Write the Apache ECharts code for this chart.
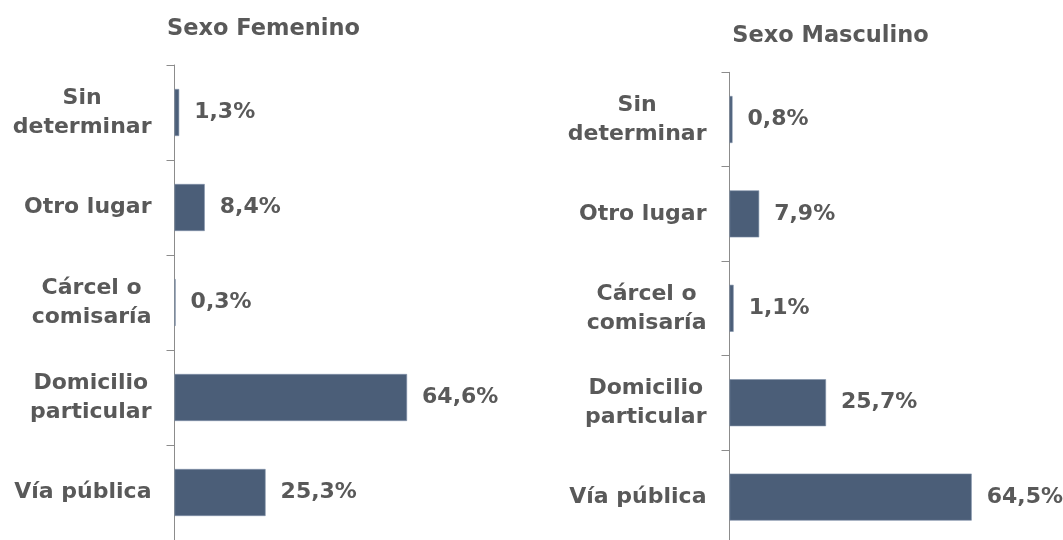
<!DOCTYPE html>
<html>
<head>
<meta charset="utf-8">
<script src="https://cdn.jsdelivr.net/npm/echarts@6/dist/echarts.min.js"></script>
<style>
html,body{margin:0;padding:0;background:#fff;}
#chart{width:1063px;height:540px;}
</style>
</head>
<body>
<div id="chart"></div>
<script>
const categories = ['Sin\ndeterminar', 'Otro lugar', 'Cárcel o\ncomisaría', 'Domicilio\nparticular', 'Vía pública'];
const femenino = [1.3, 8.4, 0.3, 64.6, 25.3];
const masculino = [0.8, 7.9, 1.1, 25.7, 64.5];
const titles = ['Sexo Femenino', 'Sexo Masculino'];

const FONT = '"DejaVu Sans", sans-serif';
const TXT = '#595959';
const BAR = '#4B5E78';
const AX = '#8C8C8C';

function catLabel(v) {
  return v.split('\n').map(l => '{c|' + l + '}').join('\n');
}
function valLabel(p) {
  return p.value.toFixed(1).replace('.', ',') + '%';
}

const chart = echarts.init(document.getElementById('chart'), null, {renderer: 'canvas'});

function yAxis(gi) {
  return {
    type: 'category', gridIndex: gi, data: categories, inverse: true,
    axisLine: {show: true, lineStyle: {color: AX, width: 1}},
    axisTick: {show: true, length: 8, lineStyle: {color: AX, width: 1}},
    axisLabel: {
      formatter: catLabel, margin: 23,
      rich: {c: {align: 'center', fontFamily: FONT, fontWeight: 'bold', fontSize: 22, color: TXT, lineHeight: 29}}
    }
  };
}
function series(gi, data) {
  return {
    type: 'bar', xAxisIndex: gi, yAxisIndex: gi, data: data, barWidth: 47,
    itemStyle: {color: BAR, borderColor: '#8091A8', borderWidth: 0.6},
    label: {show: true, position: 'right', distance: 15, formatter: valLabel,
      fontFamily: FONT, fontWeight: 'bold', fontSize: 22, color: TXT},
    silent: true
  };
}

chart.setOption({
  animation: false,
  backgroundColor: '#fff',
  title: [
    {text: titles[0], left: 263.5, top: 18, textAlign: 'center', padding: 0,
      textStyle: {fontFamily: FONT, fontWeight: 'bold', fontSize: 22.5, color: TXT}},
    {text: titles[1], left: 830.5, top: 25, textAlign: 'center', padding: 0,
      textStyle: {fontFamily: FONT, fontWeight: 'bold', fontSize: 22.5, color: TXT}}
  ],
  grid: [
    {left: 174.5, top: 65, width: 360, height: 475, outerBoundsMode: 'none', containLabel: false},
    {left: 729.5, top: 72.3, width: 300.4, height: 472, outerBoundsMode: 'none', containLabel: false}
  ],
  xAxis: [
    {type: 'value', gridIndex: 0, min: 0, max: 100, show: false},
    {type: 'value', gridIndex: 1, min: 0, max: 80, show: false}
  ],
  yAxis: [yAxis(0), yAxis(1)],
  series: [series(0, femenino), series(1, masculino)]
});
</script>
</body>
</html>
